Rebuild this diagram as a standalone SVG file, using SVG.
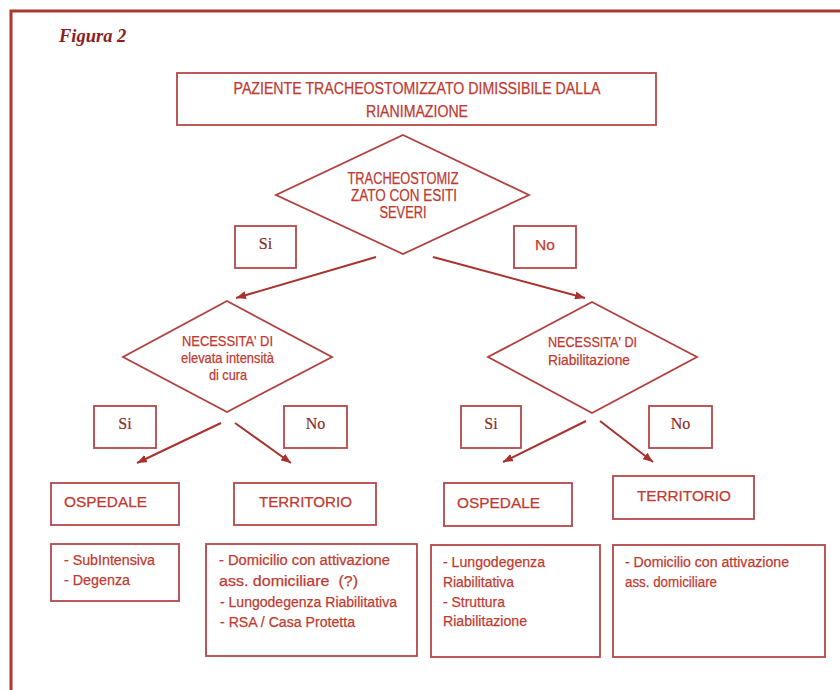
<svg xmlns="http://www.w3.org/2000/svg" width="840" height="690" viewBox="0 0 840 690">
  <defs>
    <marker id="arrow" viewBox="0 0 10 8" refX="10" refY="4" markerWidth="10" markerHeight="8" markerUnits="userSpaceOnUse" orient="auto">
      <path d="M0,0 L10,4 L0,8 z" fill="#a8322e"/>
    </marker>
    <style>
      .box { fill: #ffffff; stroke: #b5474a; stroke-width: 1.8; }
      .dia { fill: #ffffff; stroke: #b0403e; stroke-width: 1.8; }
      .t { font-family: "Liberation Sans Narrow", "Arial Narrow", "Liberation Sans", Arial, sans-serif; font-size: 15.5px; fill: #bf3a30; stroke: #bf3a30; stroke-width: 0.25; }
      .tl { font-size: 16px; }
      .ts { font-family: "Liberation Sans Narrow", "Arial Narrow", "Liberation Sans", Arial, sans-serif; font-size: 14.5px; fill: #bf3a30; stroke: #bf3a30; stroke-width: 0.25; }
      .yn { font-family: "Liberation Serif", "Times New Roman", serif; font-size: 16px; fill: #8a2c2a; stroke: #8a2c2a; stroke-width: 0.2; }
      .mid { text-anchor: middle; }
      .conn { stroke: #a8322e; stroke-width: 2; fill: none; marker-end: url(#arrow); }
    </style>
  </defs>

  <rect x="0" y="0" width="840" height="690" fill="#ffffff"/>

  <!-- page frame (only top and left edges inside the sheet) -->
  <path d="M11,690 L11,11 L840,11" fill="none" stroke="#a8392e" stroke-width="3"/>

  <text x="59" y="42" font-family="Liberation Serif, 'Times New Roman', serif" font-size="18.5" font-weight="bold" font-style="italic" fill="#8b1e1e">Figura 2</text>

  <g id="start">
    <rect class="box" x="177" y="73" width="479" height="52"/>
    <text class="t tl mid" x="417" y="94" textLength="367" lengthAdjust="spacingAndGlyphs">PAZIENTE TRACHEOSTOMIZZATO DIMISSIBILE DALLA</text>
    <text class="t tl mid" x="417" y="117" textLength="102" lengthAdjust="spacingAndGlyphs">RIANIMAZIONE</text>
  </g>

  <g id="q-esiti">
    <polygon class="dia" points="403,135 529,195 403,254 276,195"/>
    <text class="t tl mid" x="403" y="184" textLength="111" lengthAdjust="spacingAndGlyphs">TRACHEOSTOMIZ</text>
    <text class="t tl mid" x="404" y="201" textLength="106" lengthAdjust="spacingAndGlyphs">ZATO CON ESITI</text>
    <text class="t tl mid" x="403" y="218" textLength="47" lengthAdjust="spacingAndGlyphs">SEVERI</text>
  </g>

  <g id="si-1">
    <rect class="box" x="235" y="226" width="61" height="42"/>
    <text class="yn mid" x="265.5" y="249">Si</text>
  </g>
  <g id="no-1">
    <rect class="box" x="514" y="226" width="62" height="42"/>
    <text class="t mid" x="545" y="250">No</text>
  </g>

  <g id="q-intensita">
    <polygon class="dia" points="227,301 332,357 227,412 123,357"/>
    <text class="ts mid" x="227.5" y="346" textLength="91" lengthAdjust="spacingAndGlyphs">NECESSITA' DI</text>
    <text class="ts mid" x="227.5" y="363" textLength="93" lengthAdjust="spacingAndGlyphs">elevata intensità</text>
    <text class="ts mid" x="228" y="380" textLength="38" lengthAdjust="spacingAndGlyphs">di cura</text>
  </g>

  <g id="q-riabilitazione">
    <polygon class="dia" points="592,302 697,357 592,413 488,357"/>
    <text class="ts mid" x="592.5" y="347" textLength="89" lengthAdjust="spacingAndGlyphs">NECESSITA' DI</text>
    <text class="ts mid" x="589" y="365" textLength="82" lengthAdjust="spacingAndGlyphs">Riabilitazione</text>
  </g>

  <g id="si-2">
    <rect class="box" x="94" y="406" width="62" height="42"/>
    <text class="yn mid" x="125" y="429">Si</text>
  </g>
  <g id="no-2">
    <rect class="box" x="284" y="406" width="63" height="42"/>
    <text class="yn mid" x="315.5" y="429">No</text>
  </g>
  <g id="si-3">
    <rect class="box" x="461" y="406" width="60" height="42"/>
    <text class="yn mid" x="491" y="429">Si</text>
  </g>
  <g id="no-3">
    <rect class="box" x="649" y="406" width="63" height="42"/>
    <text class="yn mid" x="680.5" y="429">No</text>
  </g>

  <g id="ospedale-1">
    <rect class="box" x="51" y="483" width="128" height="42"/>
    <text class="t" x="64" y="507" textLength="83" lengthAdjust="spacingAndGlyphs">OSPEDALE</text>
  </g>
  <g id="territorio-1">
    <rect class="box" x="234" y="483" width="142" height="42"/>
    <text class="t" x="259" y="507" textLength="93" lengthAdjust="spacingAndGlyphs">TERRITORIO</text>
  </g>
  <g id="ospedale-2">
    <rect class="box" x="444" y="483" width="128" height="43"/>
    <text class="t" x="457" y="508" textLength="83" lengthAdjust="spacingAndGlyphs">OSPEDALE</text>
  </g>
  <g id="territorio-2">
    <rect class="box" x="613" y="476" width="141" height="43"/>
    <text class="t" x="637" y="501" textLength="94" lengthAdjust="spacingAndGlyphs">TERRITORIO</text>
  </g>

  <g id="list-ospedale-1">
    <rect class="box" x="51" y="544" width="128" height="57"/>
    <text class="t" x="64" y="565" textLength="91" lengthAdjust="spacingAndGlyphs">- SubIntensiva</text>
    <text class="t" x="64" y="585" textLength="66" lengthAdjust="spacingAndGlyphs">- Degenza</text>
  </g>
  <g id="list-territorio-1">
    <rect class="box" x="206" y="544" width="211" height="112"/>
    <text class="t" x="219" y="565" textLength="171" lengthAdjust="spacingAndGlyphs">- Domicilio con attivazione</text>
    <text class="t" x="219" y="586" textLength="139" lengthAdjust="spacingAndGlyphs" xml:space="preserve">ass. domiciliare  (?)</text>
    <text class="t" x="220" y="607" textLength="177" lengthAdjust="spacingAndGlyphs">- Lungodegenza Riabilitativa</text>
    <text class="t" x="220" y="627" textLength="135" lengthAdjust="spacingAndGlyphs">- RSA / Casa Protetta</text>
  </g>
  <g id="list-ospedale-2">
    <rect class="box" x="431" y="545" width="169" height="112"/>
    <text class="t" x="443" y="567" textLength="102" lengthAdjust="spacingAndGlyphs">- Lungodegenza</text>
    <text class="t" x="443" y="587" textLength="71" lengthAdjust="spacingAndGlyphs">Riabilitativa</text>
    <text class="t" x="443" y="607" textLength="62" lengthAdjust="spacingAndGlyphs">- Struttura</text>
    <text class="t" x="443" y="626" textLength="84" lengthAdjust="spacingAndGlyphs">Riabilitazione</text>
  </g>
  <g id="list-territorio-2">
    <rect class="box" x="613" y="545" width="212" height="112"/>
    <text class="t" x="625" y="567" textLength="164" lengthAdjust="spacingAndGlyphs">- Domicilio con attivazione</text>
    <text class="t" x="625" y="587" textLength="92" lengthAdjust="spacingAndGlyphs">ass. domiciliare</text>
  </g>

  <g id="connectors">
    <line class="conn" x1="376" y1="257" x2="236" y2="298"/>
    <line class="conn" x1="433" y1="257" x2="585" y2="298"/>
    <line class="conn" x1="221" y1="423" x2="137" y2="463"/>
    <line class="conn" x1="235" y1="423" x2="291" y2="463"/>
    <line class="conn" x1="586" y1="421" x2="503" y2="462"/>
    <line class="conn" x1="600" y1="421" x2="653" y2="462"/>
  </g>
</svg>
